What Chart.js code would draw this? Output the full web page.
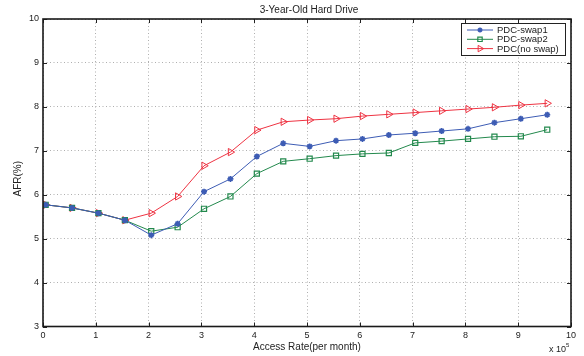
<!DOCTYPE html>
<html>
<head>
<meta charset="utf-8">
<script src="https://cdn.jsdelivr.net/npm/chart.js@4/dist/chart.umd.min.js"></script>
<style>
  html, body { margin: 0; padding: 0; background: #fff; }
  #c { display: block; }
</style>
</head>
<body>
<canvas id="c" width="584" height="356"></canvas>
<script>
// ---- data (x in units of 10^5 accesses per month) ----
const accessRate = [0.05, 0.55, 1.05, 1.55, 2.05, 2.55, 3.05, 3.55, 4.05, 4.55,
                    5.05, 5.55, 6.05, 6.55, 7.05, 7.55, 8.05, 8.55, 9.05, 9.55];
const swap1  = [5.77, 5.70, 5.58, 5.42, 5.08, 5.34, 6.07, 6.36, 6.87, 7.17,
                7.10, 7.23, 7.27, 7.36, 7.40, 7.45, 7.50, 7.64, 7.73, 7.82];
const swap2  = [5.77, 5.70, 5.58, 5.42, 5.17, 5.26, 5.68, 5.96, 6.48, 6.76,
                6.82, 6.89, 6.93, 6.95, 7.18, 7.22, 7.27, 7.32, 7.33, 7.48];
const noSwap = [5.77, 5.70, 5.58, 5.42, 5.58, 5.96, 6.66, 6.97, 7.47, 7.66,
                7.70, 7.73, 7.79, 7.83, 7.87, 7.91, 7.95, 7.99, 8.04, 8.08];
const seriesNames = ['PDC-swap1', 'PDC-swap2', 'PDC(no swap)'];
const xTicks = [0, 1, 2, 3, 4, 5, 6, 7, 8, 9, 10];
const yTicks = [3, 4, 5, 6, 7, 8, 9, 10];
const chartTitle = '3-Year-Old Hard Drive';
const xTitle = 'Access Rate(per month)';
const yTitle = 'AFR(%)';

const FONT = '"Liberation Sans", Arial, Helvetica, sans-serif';
const BLUE = '#3d5cb4', GREEN = '#23894d', RED = '#ee3342';

const toPts = ys => ys.map((y, i) => ({ x: accessRate[i], y }));

const frameAndDecor = {
  id: 'frameAndDecor',
  afterDraw(chart) {
    const { ctx, chartArea: a, scales } = chart;
    ctx.save();
    // inner ticks on all four sides
    ctx.strokeStyle = '#222';
    ctx.lineWidth = 1;
    const tl = 4;
    ctx.beginPath();
    xTicks.forEach(v => {
      const px = Math.round(scales.x.getPixelForValue(v)) + 0.5;
      ctx.moveTo(px, a.bottom); ctx.lineTo(px, a.bottom - tl);
      ctx.moveTo(px, a.top); ctx.lineTo(px, a.top + tl);
    });
    yTicks.forEach(v => {
      const py = Math.round(scales.y.getPixelForValue(v)) + 0.5;
      ctx.moveTo(a.left, py); ctx.lineTo(a.left + tl, py);
      ctx.moveTo(a.right, py); ctx.lineTo(a.right - tl, py);
    });
    ctx.stroke();
    // frame
    ctx.lineWidth = 1.6;
    ctx.strokeStyle = '#1a1a1a';
    ctx.strokeRect(a.left, a.top, a.right - a.left, a.bottom - a.top);

    // titles
    ctx.fillStyle = '#222';
    ctx.font = '10px ' + FONT;
    ctx.textAlign = 'center';
    ctx.textBaseline = 'middle';
    ctx.fillText(chartTitle, (a.left + a.right) / 2 + 2, 10);
    ctx.fillText(xTitle, (a.left + a.right) / 2, 347);
    ctx.save();
    ctx.translate(18, (a.top + a.bottom) / 2 + 6);
    ctx.rotate(-Math.PI / 2);
    ctx.fillText(yTitle, 0, 0);
    ctx.restore();
    // x 10^5
    ctx.font = '9px ' + FONT;
    ctx.textAlign = 'left';
    ctx.fillText('x 10', 549, 350);
    ctx.font = '6px ' + FONT;
    ctx.fillText('5', 566, 345);

    // legend
    const lx = 461, ly = 23, lw = 104, lh = 32;
    ctx.fillStyle = '#fff';
    ctx.fillRect(lx, ly, lw, lh);
    ctx.lineWidth = 1;
    ctx.strokeStyle = '#222';
    ctx.strokeRect(lx + 0.5, ly + 0.5, lw, lh);
    chart.data.datasets.forEach((ds, i) => {
      const y = ly + 7 + i * 9.3;
      ctx.strokeStyle = ds.borderColor;
      ctx.lineWidth = 1;
      ctx.beginPath();
      ctx.moveTo(lx + 6, y); ctx.lineTo(lx + 32, y);
      ctx.stroke();
      ctx.fillStyle = ds.backgroundColor;
      ctx.lineWidth = ds.pointBorderWidth;
      Chart.helpers.drawPoint(ctx, {
        pointStyle: ds.pointStyle, radius: ds.pointRadius - 0.5,
        rotation: ds.pointRotation || 0, borderWidth: ds.pointBorderWidth
      }, lx + 19, y);
      ctx.fillStyle = '#222';
      ctx.font = '9.5px ' + FONT;
      ctx.textAlign = 'left';
      ctx.textBaseline = 'middle';
      ctx.fillText(ds.label, lx + 36, y + 0.5);
    });
    ctx.restore();
  }
};

new Chart(document.getElementById('c'), {
  type: 'line',
  data: {
    datasets: [
      { label: seriesNames[0], data: toPts(swap1), borderColor: BLUE, backgroundColor: BLUE,
        pointStyle: 'star', pointRadius: 3, pointBorderWidth: 1.6, borderWidth: 1 },
      { label: seriesNames[1], data: toPts(swap2), borderColor: GREEN, backgroundColor: 'rgba(255,255,255,0)',
        pointStyle: 'rect', pointRadius: 3.6, pointBorderWidth: 1.2, borderWidth: 1 },
      { label: seriesNames[2], data: toPts(noSwap), borderColor: RED, backgroundColor: 'rgba(255,255,255,0)',
        pointStyle: 'triangle', pointRotation: 90, pointRadius: 4.2, pointBorderWidth: 1, borderWidth: 1 }
    ]
  },
  options: {
    responsive: false,
    animation: false,
    events: [],
    layout: { padding: { top: 19, right: 13, left: 0, bottom: 0 } },
    plugins: { legend: { display: false }, title: { display: false }, tooltip: { enabled: false } },
    elements: { line: { tension: 0 } },
    scales: {
      x: {
        type: 'linear', min: 0, max: 10,
        afterBuildTicks: s => { s.ticks = xTicks.map(v => ({ value: v })); },
        afterFit: s => { s.height = 29.5; },
        grid: { color: '#9a9a9a', lineWidth: 0.8, drawTicks: false },
        border: { display: false, dash: [1, 2.5] },
        ticks: { color: '#222', font: { family: FONT, size: 9 }, padding: 4, maxRotation: 0 }
      },
      y: {
        type: 'linear', min: 3, max: 10,
        afterBuildTicks: s => { s.ticks = yTicks.map(v => ({ value: v })); },
        afterFit: s => { s.width = 43; },
        grid: { color: '#9a9a9a', lineWidth: 0.8, drawTicks: false },
        border: { display: false, dash: [1, 2.5] },
        ticks: { color: '#222', font: { family: FONT, size: 9 }, padding: 4 }
      }
    }
  },
  plugins: [frameAndDecor]
});
</script>
</body>
</html>
